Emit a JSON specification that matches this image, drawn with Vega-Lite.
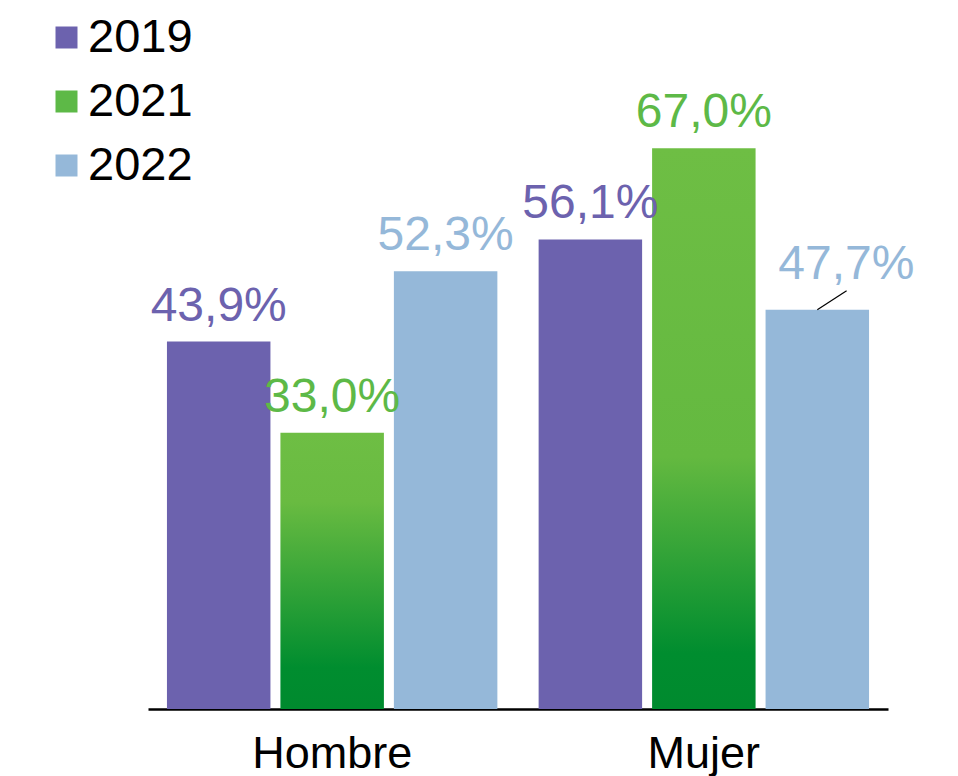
{
  "$schema": "https://vega.github.io/schema/vega-lite/v6.json",
  "width": 740,
  "height": 709,
  "autosize": {"type": "none"},
  "padding": {"left": 148, "top": 0, "right": 70, "bottom": 67},
  "background": "white",
  "data": {
    "values": [
      {"sexo": "Hombre", "year": "2019", "value": 43.9, "label": "43,9%"},
      {"sexo": "Hombre", "year": "2021", "value": 33.0, "label": "33,0%"},
      {"sexo": "Hombre", "year": "2022", "value": 52.3, "label": "52,3%"},
      {"sexo": "Mujer", "year": "2019", "value": 56.1, "label": "56,1%"},
      {"sexo": "Mujer", "year": "2021", "value": 67.0, "label": "67,0%"},
      {"sexo": "Mujer", "year": "2022", "value": 47.7, "label": "47,7%"}
    ]
  },
  "encoding": {
    "x": {
      "field": "sexo", "type": "nominal",
      "scale": {"domain": ["Hombre", "Mujer"], "paddingInner": 0.111, "paddingOuter": 0.051},
      "axis": {
        "title": null, "labelAngle": 0, "ticks": false, "domainColor": "black", "domainWidth": 2.5,
        "labelFontSize": 45, "labelColor": "black", "labelFont": "Liberation Sans", "labelPadding": 22,
        "labelBaseline": "top"
      }
    },
    "xOffset": {
      "field": "year", "type": "nominal",
      "scale": {"domain": ["2019", "2021", "2022"], "paddingInner": 0.088, "paddingOuter": 0}
    },
    "y": {
      "field": "value", "type": "quantitative",
      "scale": {"domain": [0, 84.7], "nice": false, "zero": true},
      "axis": null
    }
  },
  "layer": [
    {
      "transform": [{"filter": "datum.year !== '2021'"}],
      "mark": {"type": "bar"},
      "encoding": {
        "color": {
          "field": "year", "type": "nominal",
          "scale": {"domain": ["2019", "2021", "2022"], "range": ["#6C62AE", "#5DB947", "#95B8D9"]},
          "legend": {
            "title": null, "orient": "none", "legendX": -105, "legendY": 14,
            "symbolType": "square", "symbolSize": 484, "symbolStrokeWidth": 0,
            "labelFontSize": 47, "labelFont": "Liberation Sans", "labelColor": "black",
            "labelOffset": -2, "rowPadding": 16, "padding": 0, "symbolOpacity": 1,
            "values": ["2019", "2021", "2022"],
            "encode": {
              "symbols": {
                "update": {
                  "fill": [
                    {"test": "datum.value === '2021'", "value": {"gradient": "linear", "x1": 0, "y1": 0, "x2": 0, "y2": 1, "stops": [{"offset": 0, "color": "#6EBE44"}, {"offset": 1, "color": "#008C2E"}]}},
                    {"scale": "color", "field": "value"}
                  ],
                  "strokeWidth": {"value": 0}
                }
              }
            }
          }
        }
      }
    },
    {
      "transform": [{"filter": "datum.year === '2021' && datum.sexo === 'Hombre'"}],
      "mark": {
        "type": "bar",
        "color": {"gradient": "linear", "x1": 0, "y1": 0, "x2": 0, "y2": 1,
          "stops": [
            {"offset": 0, "color": "#6EBE44"},
            {"offset": 0.25, "color": "#69BB41"},
            {"offset": 0.85, "color": "#008D2F"},
            {"offset": 1, "color": "#008A2E"}
          ]}
      }
    },
    {
      "transform": [{"filter": "datum.year === '2021' && datum.sexo === 'Mujer'"}],
      "mark": {
        "type": "bar",
        "color": {"gradient": "linear", "x1": 0, "y1": 0, "x2": 0, "y2": 1,
          "stops": [
            {"offset": 0, "color": "#6EBE44"},
            {"offset": 0.55, "color": "#64B940"},
            {"offset": 0.9, "color": "#008D2F"},
            {"offset": 1, "color": "#008A2E"}
          ]}
      }
    },
    {
      "transform": [{"filter": "!(datum.sexo === 'Mujer' && datum.year === '2022')"}],
      "mark": {"type": "text", "baseline": "alphabetic", "align": "center", "dy": -21, "fontSize": 48, "font": "Liberation Sans"},
      "encoding": {
        "text": {"field": "label"},
        "color": {"field": "year", "type": "nominal", "legend": null}
      }
    },
    {
      "transform": [{"filter": "datum.sexo === 'Mujer' && datum.year === '2022'"}],
      "mark": {"type": "text", "baseline": "alphabetic", "align": "center", "dy": -31, "dx": 29, "fontSize": 48, "font": "Liberation Sans"},
      "encoding": {
        "text": {"field": "label"},
        "color": {"field": "year", "type": "nominal", "legend": null}
      }
    },
    {
      "transform": [{"filter": "datum.sexo === 'Mujer' && datum.year === '2022'"}],
      "mark": {"type": "point", "shape": "M0,0L1,-0.65", "size": 3433, "filled": false, "stroke": "black", "strokeWidth": 1.2, "opacity": 1}
    }
  ],
  "config": {
    "view": {"stroke": null}
  }
}
